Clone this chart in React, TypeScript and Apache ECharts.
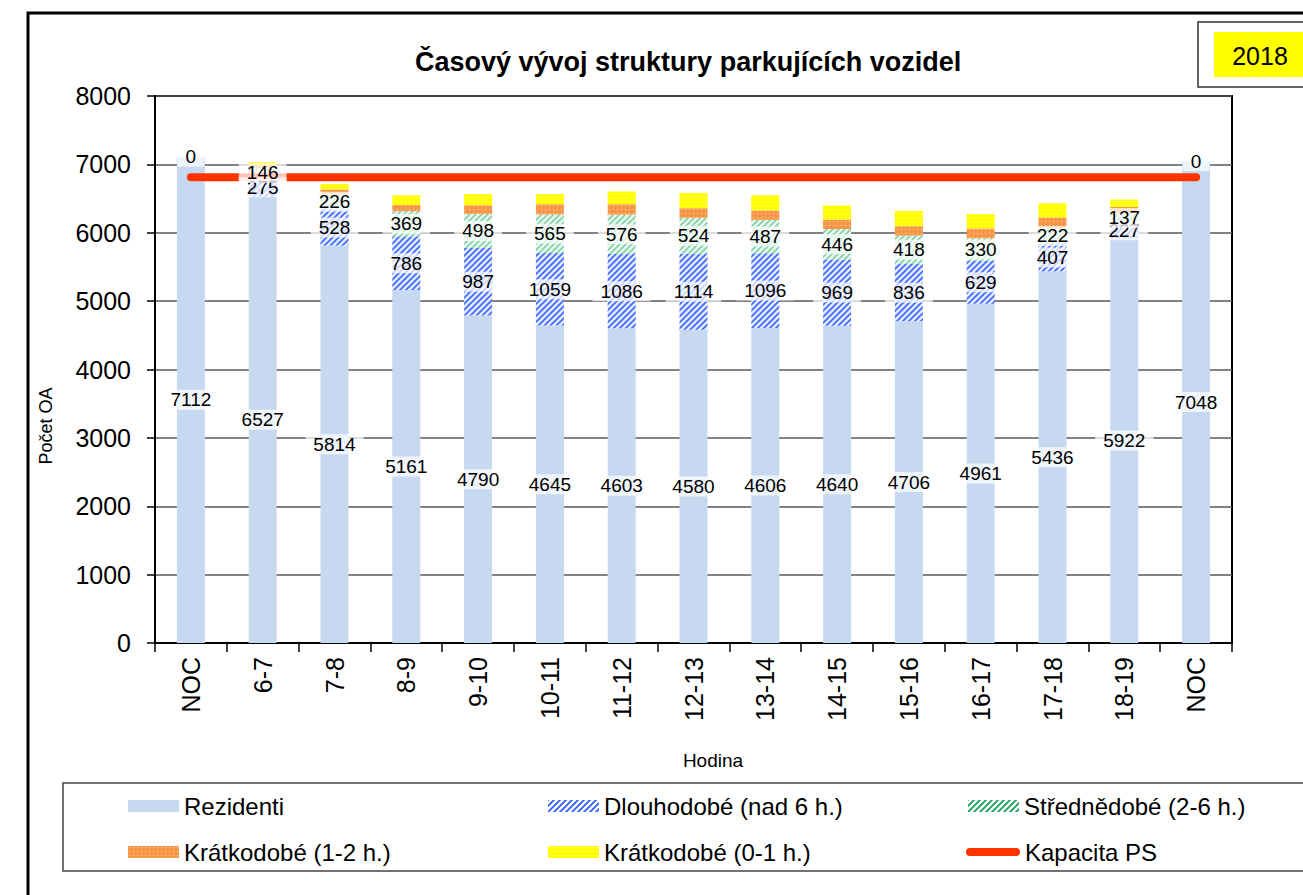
import React, { useEffect, useRef } from "react";
import * as echarts from "echarts";

const categories = ["NOC", "6-7", "7-8", "8-9", "9-10", "10-11", "11-12", "12-13", "13-14", "14-15", "15-16", "16-17", "17-18", "18-19", "NOC"];
const rezidenti = [7112, 6527, 5814, 5161, 4790, 4645, 4603, 4580, 4606, 4640, 4706, 4961, 5436, 5922, 7048];
const dlouhodobe = [0, 275, 528, 786, 987, 1059, 1086, 1114, 1096, 969, 836, 629, 407, 227, 0];
const strednedobe = [0, 146, 226, 369, 498, 565, 576, 524, 487, 446, 418, 330, 222, 137, 0];
const kratkodobe12 = [0, 38, 65, 92, 128, 149, 153, 141, 137, 139, 136, 143, 159, 92, 0];
const kratkodobe01 = [0, 45, 81, 140, 161, 146, 185, 224, 223, 205, 224, 209, 208, 108, 0];
const kapacita = [6810, 6810, 6810, 6810, 6810, 6810, 6810, 6810, 6810, 6810, 6810, 6810, 6810, 6810, 6810];

const seriesNames = ["Rezidenti", "Dlouhodobé (nad 6 h.)", "Střednědobé (2-6 h.)", "Krátkodobé (1-2 h.)", "Krátkodobé (0-1 h.)", "Kapacita PS"];
const titleText = "Časový vývoj struktury parkujících vozidel";
const yearText = "2018";
const xAxisName = "Hodina";
const yAxisName = "Počet OA";

const FONT = "'Liberation Sans', Arial, sans-serif";

function makePattern(size: number, draw: (ctx: CanvasRenderingContext2D, s: number) => void) {
  const c = document.createElement("canvas");
  c.width = size;
  c.height = size;
  const ctx = c.getContext("2d")!;
  draw(ctx, size);
  return { image: c, repeat: "repeat", imageWidth: size, imageHeight: size } as any;
}

function hatch(bg: string, fg: string, lw: number) {
  return makePattern(6, (ctx, s) => {
    ctx.fillStyle = bg;
    ctx.fillRect(0, 0, s, s);
    ctx.strokeStyle = fg;
    ctx.lineWidth = lw;
    ctx.beginPath();
    ctx.moveTo(-1, s + 1);
    ctx.lineTo(s + 1, -1);
    ctx.moveTo(-1, 1);
    ctx.lineTo(1, -1);
    ctx.moveTo(s - 1, s + 1);
    ctx.lineTo(s + 1, s - 1);
    ctx.stroke();
  });
}

function dots(bg: string, dot: string) {
  return makePattern(4, (ctx, s) => {
    ctx.fillStyle = bg;
    ctx.fillRect(0, 0, s, s);
    ctx.fillStyle = dot;
    ctx.fillRect(1, 1, 1, 1);
  });
}

export default function App() {
  const ref = useRef<HTMLDivElement>(null);

  useEffect(() => {
    if (!ref.current) return;
    const chart = echarts.init(ref.current, null, { renderer: "svg" });

    const blueSeries = hatch("#e2e9ff", "#3d68ff", 1.6);
    const blueLegend = hatch("#ffffff", "#2f5cff", 1.8);
    const greenSeries = hatch("#eaf8f0", "#7fd1a6", 1.6);
    const greenLegend = hatch("#ffffff", "#14a05a", 1.8);
    const orangeFill = dots("#F79646", "rgba(255,255,255,0.6)");
    const yellowFill = dots("#FFFF00", "rgba(255,255,255,0.8)");

    const barBase = {
      type: "bar",
      stack: "main",
      barWidth: 28,
      barGap: "-100%",
      z: 2,
      silent: true,
    };

    const labelStyle = {
      show: true,
      position: "inside",
      color: "#000",
      fontSize: 19,
      fontFamily: FONT,
      backgroundColor: "rgba(255,255,255,0.72)",
      padding: [1, 8, 0, 8],
      formatter: "{c}",
    };

    const labelBase = {
      type: "bar",
      stack: "labels",
      barWidth: 28,
      barGap: "-100%",
      z: 5,
      silent: true,
      itemStyle: { color: "rgba(0,0,0,0)" },
      label: labelStyle,
    };

    const legendPos = [
      { left: 128, top: 794 },
      { left: 548, top: 794 },
      { left: 968, top: 794 },
      { left: 128, top: 840 },
      { left: 548, top: 840 },
      { left: 966, top: 840 },
    ];
    const legendItemStyles: any[] = [
      { color: "#C6D9F1" },
      { color: blueLegend },
      { color: greenLegend },
      { color: orangeFill },
      { color: yellowFill },
      { color: "#FF3300" },
    ];

    const legends = seriesNames.map((name, i) => ({
      show: true,
      left: legendPos[i].left,
      top: legendPos[i].top,
      padding: 0,
      itemWidth: i === 5 ? 54 : 51,
      itemHeight: i === 5 ? 8 : 12,
      selectedMode: false,
      textStyle: { fontSize: 24, color: "#000", fontFamily: FONT },
      data: [
        {
          name,
          icon: i === 5 ? "path://M4,0 H50 A4,4 0 0 1 50,8 H4 A4,4 0 0 1 4,0 Z" : "rect",
          itemStyle: legendItemStyles[i],
        },
      ],
    }));

    const option: any = {
      animation: false,
      backgroundColor: "#fff",
      textStyle: { fontFamily: FONT },
      title: {
        text: titleText,
        left: 415,
        top: 48,
        padding: 0,
        textStyle: { fontSize: 27, fontWeight: "bold", color: "#000", fontFamily: FONT },
      },
      legend: legends,
      grid: {
        left: 155,
        right: 71,
        top: 96,
        bottom: 252,
        show: true,
        borderColor: "#000",
        borderWidth: 2,
        outerBoundsMode: "none",
      },
      xAxis: {
        type: "category",
        data: categories,
        axisLine: { show: true, lineStyle: { color: "#000", width: 2 } },
        axisTick: { show: true, length: 9, lineStyle: { color: "#000", width: 1.5 } },
        axisLabel: { rotate: 90, margin: 14, fontSize: 25, color: "#000", fontFamily: FONT, interval: 0 },
        splitLine: { show: false },
      },
      yAxis: {
        type: "value",
        min: 0,
        max: 8000,
        interval: 1000,
        axisLine: { show: true, lineStyle: { color: "#000", width: 2 } },
        axisTick: { show: true, length: 8, lineStyle: { color: "#000", width: 1.5 } },
        axisLabel: {
          margin: 24,
          fontSize: 25,
          color: "#000",
          fontFamily: FONT,
          formatter: (v: number) => String(v),
        },
        splitLine: { show: true, lineStyle: { color: "#595959", width: 1.5 } },
      },
      graphic: [
        {
          type: "rect",
          z: -10,
          shape: { x: 28, y: 13, width: 1400, height: 1000 },
          style: { fill: "none", stroke: "#000", lineWidth: 3 },
        },
        {
          type: "rect",
          z: -10,
          shape: { x: 1198, y: 22, width: 200, height: 65 },
          style: { fill: "#fff", stroke: "#333", lineWidth: 1.5 },
        },
        {
          type: "rect",
          z: -9,
          shape: { x: 1214, y: 32, width: 200, height: 45 },
          style: { fill: "#FFFF00" },
        },
        {
          type: "text",
          z: 10,
          x: 1260,
          y: 56,
          style: { text: yearText, fontSize: 25, fill: "#000", align: "center", verticalAlign: "middle", fontFamily: FONT },
        },
        {
          type: "rect",
          z: -10,
          shape: { x: 63, y: 783, width: 1400, height: 88 },
          style: { fill: "#fff", stroke: "#444", lineWidth: 1.5 },
        },
        {
          type: "text",
          z: 10,
          x: 713,
          y: 760,
          style: { text: xAxisName, fontSize: 19, fill: "#000", align: "center", verticalAlign: "middle", fontFamily: FONT },
        },
        {
          type: "text",
          z: 10,
          x: 46,
          y: 426,
          rotation: Math.PI / 2,
          style: { text: yAxisName, fontSize: 18, fill: "#000", align: "center", verticalAlign: "middle", fontFamily: FONT },
        },
      ],
      series: [
        { ...barBase, name: seriesNames[0], data: rezidenti, itemStyle: { color: "#C6D9F1" } },
        { ...barBase, name: seriesNames[1], data: dlouhodobe, itemStyle: { color: blueSeries } },
        { ...barBase, name: seriesNames[2], data: strednedobe, itemStyle: { color: greenSeries } },
        { ...barBase, name: seriesNames[3], data: kratkodobe12, itemStyle: { color: orangeFill } },
        { ...barBase, name: seriesNames[4], data: kratkodobe01, itemStyle: { color: yellowFill } },
        {
          type: "line",
          name: seriesNames[5],
          data: kapacita,
          z: 3,
          symbol: "none",
          silent: true,
          lineStyle: { color: "#FF3300", width: 8, cap: "round" },
          itemStyle: { color: "#FF3300" },
        },
        { ...labelBase, name: "lbl-rez", data: rezidenti },
        { ...labelBase, name: "lbl-dl", data: dlouhodobe },
        {
          ...labelBase,
          name: "lbl-st",
          data: strednedobe.map((v, i) => ({ value: v, label: { show: !(v === 0 && dlouhodobe[i] === 0) } })),
        },
      ],
    };

    chart.setOption(option);
    return () => chart.dispose();
  }, []);

  return (
    <div
      ref={ref}
      style={{ position: "fixed", left: 0, top: 0, width: 1303, height: 895, background: "#fff" }}
    />
  );
}
